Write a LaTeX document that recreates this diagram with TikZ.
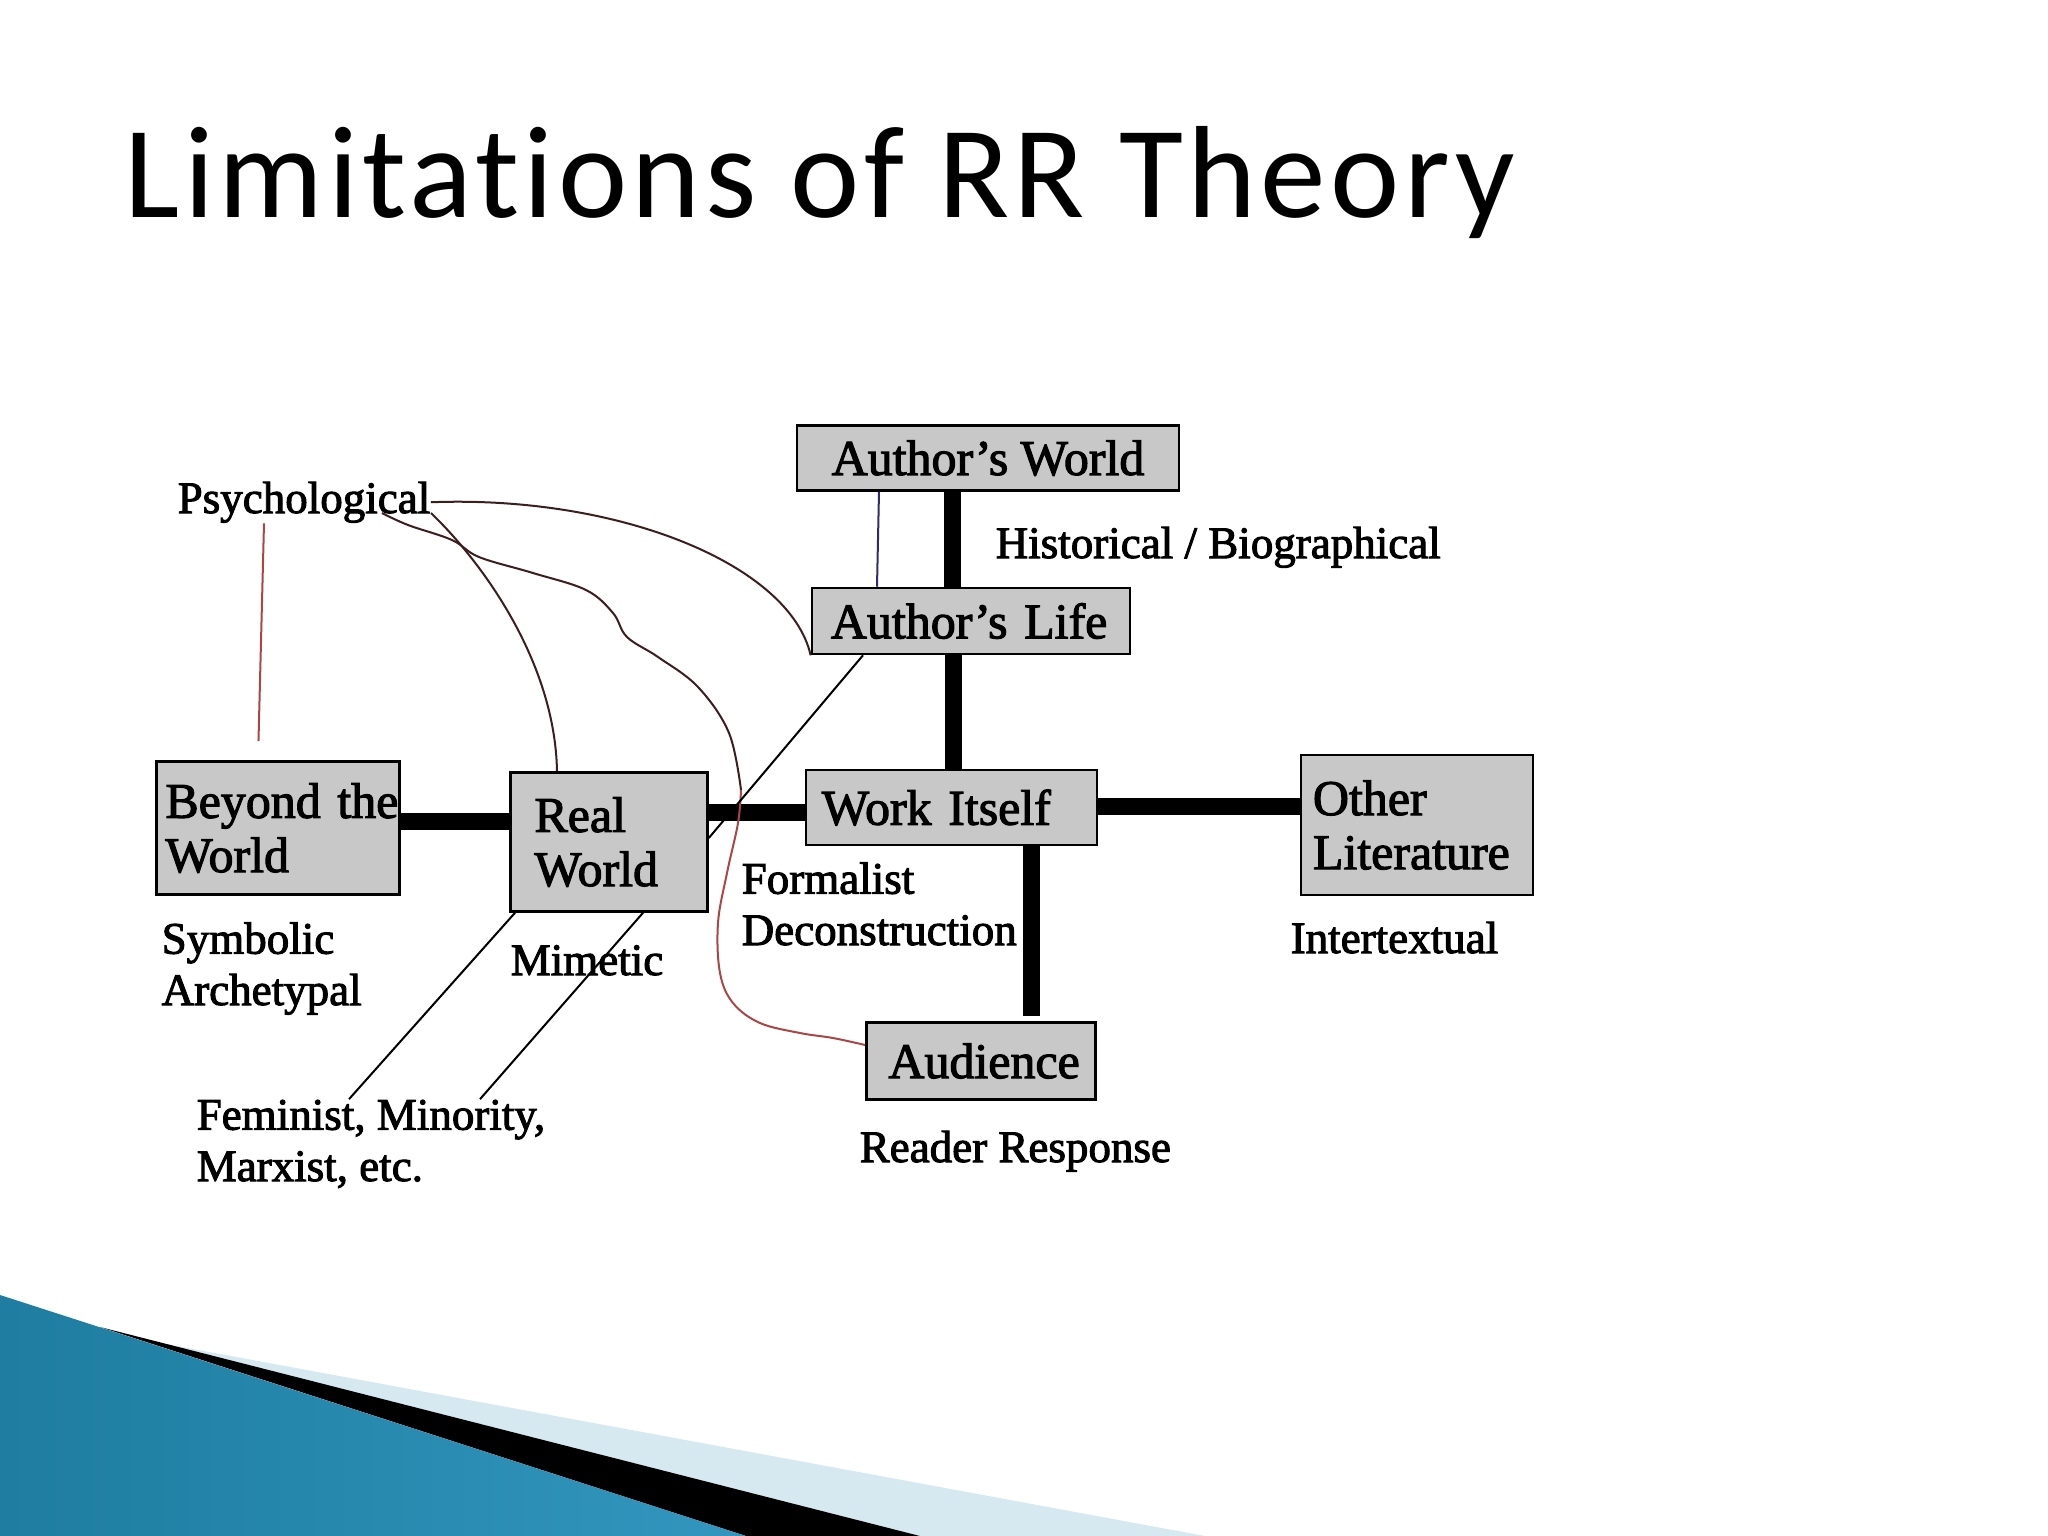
\documentclass[tikz,border=0pt]{standalone}
\usepackage{fontspec}
\newfontfamily\diafont{Liberation Serif}[FakeBold=2.2]
\newfontfamily\titlefont{Carlito}[LetterSpace=3.4, Ligatures={NoCommon}]
\usetikzlibrary{calc}
\newdimen\pxu \pxu=0.284528pt
\definecolor{boxgray}{RGB}{200,200,200}
\definecolor{darkcurve}{RGB}{60,30,30}
\definecolor{redcurve}{RGB}{170,70,70}
\definecolor{navyline}{RGB}{45,45,110}
\definecolor{bandblue}{RGB}{214,232,240}
\definecolor{tealdark}{RGB}{30,125,160}
\definecolor{teallight}{RGB}{90,185,215}
\definecolor{tealmid}{RGB}{50,150,190}
\newcommand\boxfnt{\diafont\fontsize{14.2}{15.4}\selectfont}
\newcommand\labfnt{\diafont\fontsize{12.8}{14.6}\selectfont}
\tikzset{
  box/.style={draw=black, line width=2.5\pxu, fill=boxgray, inner ysep=0pt, font=\boxfnt},
  lab/.style={inner sep=0pt, font=\labfnt, align=left},
  thickl/.style={line width=17\pxu, black},
  thinl/.style={line width=2\pxu},
}
\begin{document}
\begin{tikzpicture}[x=0.01cm, y=-0.01cm]
\useasboundingbox (0,0) rectangle (2048,1536);
\fill[white] (0,0) rectangle (2048,1536);

% bottom-left swoosh
\fill[bandblue] (166,1344) -- (1205,1536) -- (920,1536) -- cycle;
\fill[black] (100,1327) -- (920,1536) -- (746,1536) -- cycle;
\shade[left color=tealdark, middle color=teallight, right color=tealmid] (0,1295) -- (746,1536) -- (0,1536) -- cycle;

% title
\node[anchor=base west, inner sep=0pt, font=\titlefont\fontsize{37.3}{40}\selectfont] (title) at (124,217) {Limitations of RR Theory};

% boxes
\node[box, minimum width=382\pxu, minimum height=65\pxu] (aw) at (988,458) {Author’s~World};
\node[box, minimum width=318\pxu, minimum height=66\pxu, inner xsep=19\pxu, text width=280\pxu, align=left] (al) at (971,621) {Author’s~Life};
\node[box, minimum width=243\pxu, minimum height=133\pxu, inner xsep=9\pxu, text width=225\pxu, align=left] (bw) at (278,828) {Beyond~the\\World};
\node[box, minimum width=197\pxu, minimum height=139\pxu, inner xsep=24\pxu, text width=149\pxu, align=left] (rw) at (609,842) {Real\\World};
\node[box, minimum width=291\pxu, minimum height=75\pxu, inner xsep=16\pxu, text width=259\pxu, align=left] (wi) at (951.5,807.5) {Work~Itself};
\node[box, minimum width=232\pxu, minimum height=140\pxu, inner xsep=12\pxu, text width=208\pxu, align=left] (ol) at (1417,825) {Other\\Literature};
\node[box, minimum width=229\pxu, minimum height=77\pxu, inner xsep=22\pxu, text width=185\pxu, align=left] (au) at (981,1061) {Audience};

% labels (base anchor = baseline of the last line)
\node[lab, anchor=base west] (psy) at (177,513) {Psychological};
\node[lab, anchor=base west] (hist) at (995,558) {Historical / Biographical};
\node[lab, anchor=base west] (sym) at (161,1005) {Symbolic\\Archetypal};
\node[lab, anchor=base west] (mim) at (510,975) {Mimetic};
\node[lab, anchor=base west] (form) at (741,945) {Formalist\\Deconstruction};
\node[lab, anchor=base west] (inter) at (1290,953) {Intertextual};
\node[lab, anchor=base west] (reader) at (859,1162) {Reader Response};
\node[lab, anchor=base west] (fem) at (196,1181) {Feminist, Minority,\\Marxist, etc.};

% thick connectors
\draw[thickl] (bw.east |- 0,821) -- (rw.west |- 0,821);
\draw[thickl] (rw.east |- 0,812) -- (wi.west |- 0,812);
\draw[thickl] (wi.east |- 0,806) -- (ol.west |- 0,806);
\draw[thickl] (aw.south -| 952,0) -- (al.north -| 952,0);
\draw[thickl] (al.south -| 953,0) -- (wi.north -| 953,0);
\draw[thickl, shorten >=5\pxu] (wi.south -| 1031,0) -- (au.north -| 1031,0);

% thin connectors
\draw[thinl, redcurve, shorten >=19\pxu] (psy.south -| 264,0) -- (bw.north -| 258,0);
\draw[thinl, darkcurve] (psy.east) .. controls (620,495) and (790,565) .. (al.south west);
\draw[thinl, darkcurve] (psy.base east) .. controls (480,560) and (555,660) .. (rw.north -| 557,0);
\draw[thinl, darkcurve] plot[smooth, tension=0.6] coordinates {([xshift=-49\pxu]psy.base east) (408,525) (452,540) (479,557) (533,573) (586,590) (613,613) (627,637) (658,657) (698,687) (729,733) (741,790)};
\draw[thinl, redcurve] plot[smooth, tension=0.6] coordinates {(741,790) (738,823) (727,873) (718,923) (720,973) (733,1003) (760,1023) (800,1033) (833,1038) (au.west |- 0,1045)};
\draw[thinl, navyline] (aw.south -| 879,0) -- (al.north -| 877,0);
\draw[thinl, black] (al.south -| 863,0) -- (rw.east |- 0,838);
\draw[thinl, black] (rw.south -| 515,0) -- (fem.north -| 349,0);
\draw[thinl, black] (rw.south -| 643,0) -- (fem.north -| 480,0);
\end{tikzpicture}
\end{document}
